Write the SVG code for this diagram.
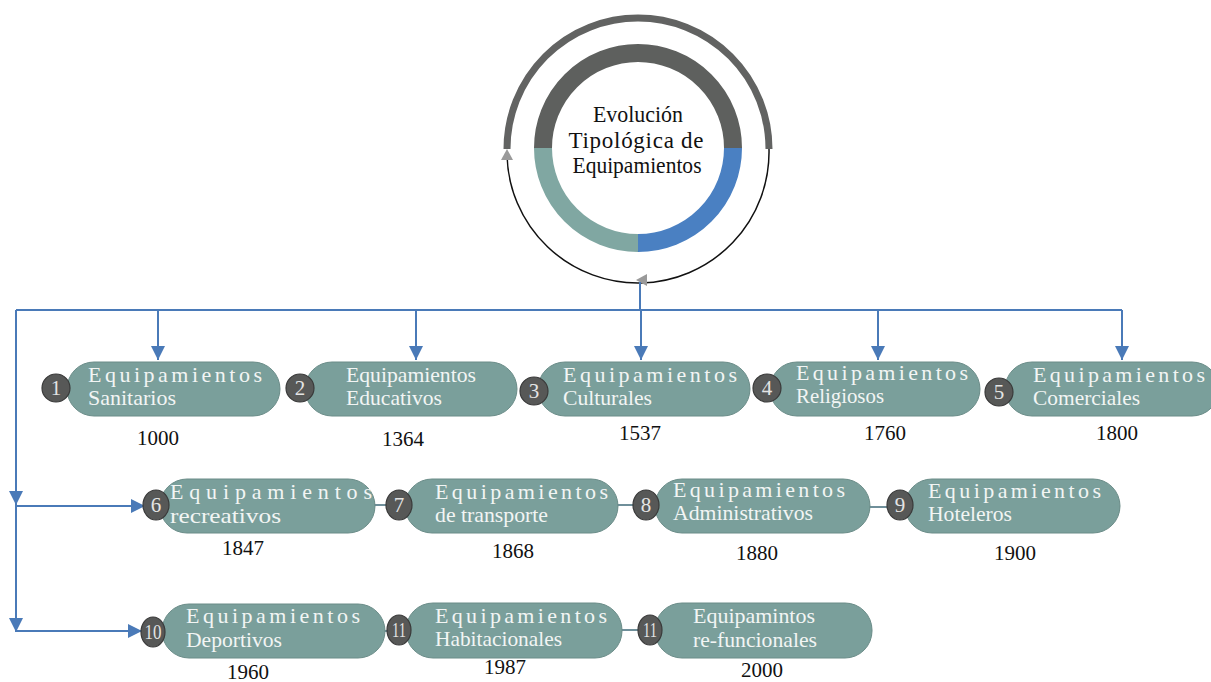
<svg xmlns="http://www.w3.org/2000/svg" width="1211" height="682" viewBox="0 0 1211 682">
<style>
.pill{fill:#7a9f9b;stroke:#6a8c88;stroke-width:1}
.pt{font-family:"Liberation Serif",serif;font-size:22px;fill:#f2f5f4}
.bd{fill:#575857;stroke:#3a3a3a;stroke-width:1.2}
.bt{font-family:"Liberation Serif",serif;font-size:21px;fill:#e4e4e4;text-anchor:middle}
.yr{font-family:"Liberation Serif",serif;font-size:21px;fill:#111;text-anchor:middle}
.ln{stroke:#4a7ab8;stroke-width:2;fill:none}
.ct{font-family:"Liberation Serif",serif;font-size:23px;fill:#111;text-anchor:middle}
</style>
<defs>
<marker id="ah" viewBox="0 0 10 10" refX="10" refY="5" markerWidth="7" markerHeight="7" markerUnits="strokeWidth" orient="auto"><path d="M0,0 L10,5 L0,10 z" fill="#4a7ab8"/></marker>
</defs>
<rect width="1211" height="682" fill="#fff"/>
<g id="center">
<path d="M507,149 A131,131 0 0 1 769,149" fill="none" stroke="#626362" stroke-width="7"/>
<path d="M769,149 A131,131 0 0 1 507,155" fill="none" stroke="#111" stroke-width="1.5"/>
<path d="M507,149 l-6,11 h12 z" fill="#9a9a9a"/>
<path d="M636,280 l11,-6 v12 z" fill="#9a9a9a"/>
<path d="M543,148 A95,95 0 0 1 733,148" fill="none" stroke="#5e605e" stroke-width="18"/>
<path d="M733,148 A95,95 0 0 1 638,243" fill="none" stroke="#4a80c2" stroke-width="18"/>
<path d="M638,243 A95,95 0 0 1 543,148" fill="none" stroke="#80a7a2" stroke-width="18"/>
<text class="ct" x="638" y="122" textLength="90" lengthAdjust="spacingAndGlyphs">Evolución</text>
<text class="ct" x="636" y="148" textLength="135" lengthAdjust="spacing">Tipológica de</text>
<text class="ct" x="637" y="173" textLength="129" lengthAdjust="spacingAndGlyphs">Equipamientos</text>
</g>
<g id="connectors">
<path class="ln" d="M640,282 V310"/>
<path class="ln" d="M16,310 H1122"/>
<path class="ln" d="M16,310 V632"/>
<path class="ln" d="M158,310 V360" marker-end="url(#ah)"/>
<path class="ln" d="M416,310 V360" marker-end="url(#ah)"/>
<path class="ln" d="M641,310 V360" marker-end="url(#ah)"/>
<path class="ln" d="M878,310 V360" marker-end="url(#ah)"/>
<path class="ln" d="M1122,310 V360" marker-end="url(#ah)"/>
<path class="ln" d="M16,490 V505" marker-end="url(#ah)"/>
<path class="ln" d="M16,617 V632" marker-end="url(#ah)"/>
<path class="ln" d="M16,506 H145" marker-end="url(#ah)"/>
<path class="ln" d="M16,631 H142" marker-end="url(#ah)"/>
<path d="M374,505 H386 M617,505 H634 M869,507 H888 M619,630 H638 M384,631 H388" stroke="#6f8f9a" stroke-width="2" fill="none"/>
</g>
<g id="n1"><rect class="pill" x="67" y="362" width="213" height="54" rx="27"/><circle class="bd" cx="56" cy="388" r="14"/><text class="bt" x="56" y="395">1</text><text class="pt" x="88" y="382" textLength="174" lengthAdjust="spacing">Equipamientos</text><text class="pt" x="88" y="405" textLength="88" lengthAdjust="spacingAndGlyphs">Sanitarios</text></g>
<g id="n2"><rect class="pill" x="305" y="362" width="212" height="54" rx="27"/><circle class="bd" cx="300" cy="388" r="14"/><text class="bt" x="300" y="395">2</text><text class="pt" x="346" y="382" textLength="130" lengthAdjust="spacingAndGlyphs">Equipamientos</text><text class="pt" x="346" y="405" textLength="96" lengthAdjust="spacingAndGlyphs">Educativos</text></g>
<g id="n3"><rect class="pill" x="538" y="362" width="212" height="54" rx="27"/><circle class="bd" cx="534" cy="391" r="14"/><text class="bt" x="534" y="398">3</text><text class="pt" x="563" y="382" textLength="174" lengthAdjust="spacing">Equipamientos</text><text class="pt" x="563" y="405" textLength="89" lengthAdjust="spacingAndGlyphs">Culturales</text></g>
<g id="n4"><rect class="pill" x="770" y="362" width="210" height="54" rx="27"/><circle class="bd" cx="767" cy="388" r="14"/><text class="bt" x="767" y="395">4</text><text class="pt" x="796" y="380" textLength="172" lengthAdjust="spacing">Equipamientos</text><text class="pt" x="796" y="403" textLength="88" lengthAdjust="spacingAndGlyphs">Religiosos</text></g>
<g id="n5"><rect class="pill" x="1005" y="362" width="214" height="54" rx="27"/><circle class="bd" cx="999" cy="392" r="14"/><text class="bt" x="999" y="399">5</text><text class="pt" x="1033" y="382" textLength="172" lengthAdjust="spacing">Equipamientos</text><text class="pt" x="1033" y="405" textLength="107" lengthAdjust="spacingAndGlyphs">Comerciales</text></g>
<g id="n6"><rect class="pill" x="160" y="479" width="215" height="54" rx="27"/><ellipse class="bd" cx="156" cy="505" rx="13" ry="15"/><text class="bt" x="156" y="512">6</text><text class="pt" x="170" y="499" textLength="202" lengthAdjust="spacing">Equipamientos</text><text class="pt" x="170" y="523" textLength="111" lengthAdjust="spacingAndGlyphs">recreativos</text></g>
<g id="n7"><rect class="pill" x="405" y="479" width="213" height="54" rx="27"/><ellipse class="bd" cx="399" cy="505" rx="13" ry="15"/><text class="bt" x="399" y="512">7</text><text class="pt" x="435" y="499" textLength="173" lengthAdjust="spacing">Equipamientos</text><text class="pt" x="435" y="522" textLength="113" lengthAdjust="spacingAndGlyphs">de transporte</text></g>
<g id="n8"><rect class="pill" x="655" y="479" width="215" height="54" rx="27"/><ellipse class="bd" cx="646" cy="505" rx="13" ry="15"/><text class="bt" x="646" y="512">8</text><text class="pt" x="673" y="497" textLength="172" lengthAdjust="spacing">Equipamientos</text><text class="pt" x="673" y="520" textLength="140" lengthAdjust="spacingAndGlyphs">Administrativos</text></g>
<g id="n9"><rect class="pill" x="905" y="479" width="215" height="54" rx="27"/><ellipse class="bd" cx="900" cy="505" rx="13" ry="15"/><text class="bt" x="900" y="512">9</text><text class="pt" x="928" y="498" textLength="173" lengthAdjust="spacing">Equipamientos</text><text class="pt" x="928" y="521" textLength="84" lengthAdjust="spacingAndGlyphs">Hoteleros</text></g>
<g id="n10"><rect class="pill" x="162" y="604" width="223" height="54" rx="27"/><ellipse class="bd" cx="153" cy="632" rx="12" ry="15"/><text class="bt" x="153" y="639" textLength="17" lengthAdjust="spacingAndGlyphs">10</text><text class="pt" x="186" y="623" textLength="174" lengthAdjust="spacing">Equipamientos</text><text class="pt" x="186" y="647" textLength="96" lengthAdjust="spacingAndGlyphs">Deportivos</text></g>
<g id="n11"><rect class="pill" x="406" y="603" width="216" height="55" rx="27"/><ellipse class="bd" cx="399" cy="630" rx="12" ry="15"/><text class="bt" x="399" y="637" textLength="14" lengthAdjust="spacingAndGlyphs">11</text><text class="pt" x="435" y="623" textLength="172" lengthAdjust="spacing">Equipamientos</text><text class="pt" x="435" y="646" textLength="127" lengthAdjust="spacingAndGlyphs">Habitacionales</text></g>
<g id="n12"><rect class="pill" x="655" y="603" width="217" height="55" rx="27"/><ellipse class="bd" cx="650" cy="630" rx="12" ry="15"/><text class="bt" x="650" y="637" textLength="14" lengthAdjust="spacingAndGlyphs">11</text><text class="pt" x="693" y="623" textLength="122" lengthAdjust="spacingAndGlyphs">Equipamintos</text><text class="pt" x="693" y="647" textLength="124" lengthAdjust="spacingAndGlyphs">re-funcionales</text></g>
<g id="years">
<text class="yr" x="158" y="445">1000</text>
<text class="yr" x="403" y="446">1364</text>
<text class="yr" x="640" y="440">1537</text>
<text class="yr" x="885" y="440">1760</text>
<text class="yr" x="1117" y="440">1800</text>
<text class="yr" x="243" y="555">1847</text>
<text class="yr" x="513" y="558">1868</text>
<text class="yr" x="757" y="560">1880</text>
<text class="yr" x="1015" y="560">1900</text>
<text class="yr" x="248" y="679">1960</text>
<text class="yr" x="505" y="674">1987</text>
<text class="yr" x="762" y="677">2000</text>
</g>
</svg>
